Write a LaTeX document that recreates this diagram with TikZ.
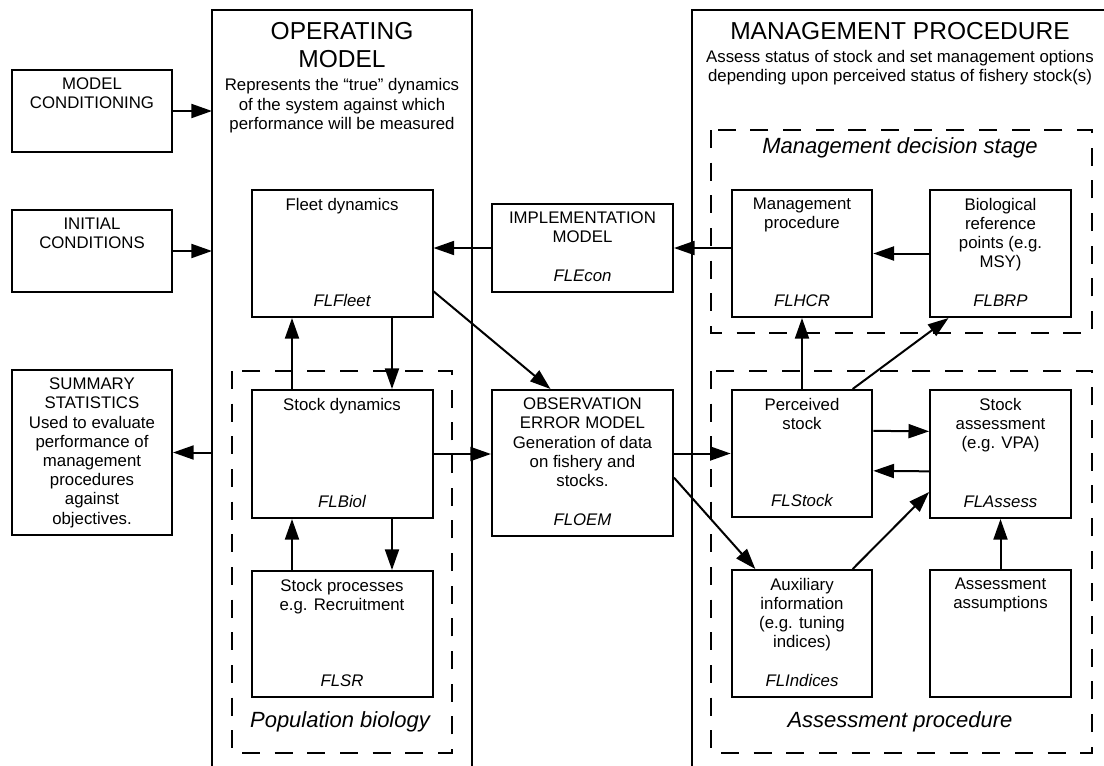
\documentclass[tikz,border=0pt]{standalone}
\usepackage{fontspec}
\setmainfont{Liberation Sans}
\usetikzlibrary{positioning,arrows.meta}

\tikzset{
	box/.style={draw, line width=1.5pt, rectangle, inner sep=0pt},
	side box/.style={box, minimum width=120pt, minimum height=61.5pt},
	mid box/.style={box, minimum width=135.75pt, minimum height=95.25pt},
	right box/.style={box, minimum width=105.5pt, minimum height=95.25pt},
	frame/.style={line width=1.4pt},
	group/.style={line width=1.3pt, dash pattern=on 13.5pt off 11pt},
	txt/.style={align=center, inner sep=0pt, font=\fontsize{12.6}{14.4}\selectfont},
	tag/.style={inner sep=0pt, font=\fontsize{12.6}{14.4}\selectfont\itshape},
	title/.style={align=center, inner sep=0pt, font=\fontsize{18.4}{21}\selectfont},
	stage/.style={inner sep=0pt, font=\fontsize{16.5}{19}\selectfont\itshape}
}

\begin{document}
\begin{tikzpicture}[x=0.75pt, y=-0.75pt, line width=1.5pt, >={Triangle[length=15.5pt, width=10.5pt]}]

	\useasboundingbox (0,0) rectangle (1104,765);

	% outer models
	\draw[frame] (212,775) |- (472,10) -- (472,775);
	\draw[frame] (692,775) |- (1110,10);
	\coordinate (om-west) at (212,0);

	\node[title, anchor=north] (om-title) at (342,21) {OPERATING\\MODEL};
	\node[txt, below=7pt of om-title] (om-sub) {Represents the ``true'' dynamics\\of the system against which\\performance will be measured};
	\node[title, anchor=north] (mp-title) at (900,21) {MANAGEMENT PROCEDURE};
	\node[txt, below=6.4pt of mp-title] (mp-sub) {Assess status of stock and set management options\\depending upon perceived status of fishery stock(s)};

	% dashed groups
	\draw[group] (232,371) rectangle (452,753);
	\draw[group] (711,130) rectangle (1092,333);
	\draw[group] (711,371) rectangle (1092,753);
	\node[stage] (pop-label) at (340,722) {Population biology};
	\node[stage] (dec-label) at (900,148) {Management decision stage};
	\node[stage] (ass-label) at (900,722) {Assessment procedure};

	% left boxes
	\node[side box] (mc) at (92,111) {};
	\node[side box] (ic) at (92,251) {};
	\node[side box, minimum height=123.75pt] (ss) at (92,452.5) {};

	% operating model boxes
	\node[mid box] (fleet) at (342,253.5) {};
	\node[mid box, minimum height=96pt] (biol) at (342,454) {};
	\node[mid box, minimum height=94.5pt] (sr) at (342,634) {};

	% middle boxes
	\node[mid box, minimum height=66pt] (econ) at (582.5,248) {};
	\node[mid box, minimum height=109.5pt] (oem) at (582.5,463) {};

	% management procedure boxes
	\node[right box] (hcr) at (802,253.5) {};
	\node[right box] (brp) at (1000.5,253.5) {};
	\node[right box] (stock) at (802,453.5) {};
	\node[right box, minimum height=96pt] (assess) at (1000.5,454) {};
	\node[right box] (idx) at (802,633.5) {};
	\node[right box] (assump) at (1000.5,633.5) {};

	% box texts
	\foreach \n/\t in {mc/{MODEL\\CONDITIONING}, ic/{INITIAL\\CONDITIONS},
		ss/{SUMMARY\\STATISTICS\\Used to evaluate\\performance of\\management\\procedures\\against\\objectives.},
		fleet/{Fleet dynamics}, biol/{Stock dynamics}, sr/{Stock processes\\e.g. Recruitment},
		econ/{IMPLEMENTATION\\MODEL}, oem/{OBSERVATION\\ERROR MODEL\\Generation of data\\on fishery and\\stocks.},
		hcr/{Management\\procedure}, brp/{Biological\\reference\\points (e.g.\\MSY)},
		stock/{Perceived\\stock}, assess/{Stock\\assessment\\(e.g. VPA)},
		idx/{Auxiliary\\information\\(e.g. tuning\\indices)}, assump/{Assessment\\assumptions}}
		\node[txt, below=6pt of \n.north] (\n-txt) {\t};

	% class names
	\foreach \n/\t in {fleet/FLFleet, biol/FLBiol, sr/FLSR, econ/FLEcon, oem/FLOEM,
		hcr/FLHCR, brp/FLBRP, stock/FLStock, assess/FLAssess, idx/FLIndices}
		\node[tag, above=8pt of \n.south] (\n-tag) {\t};

	% inputs and outputs of the operating model
	\draw[->] (mc) -- (mc -| om-west);
	\draw[->] (ic) -- (ic -| om-west);
	\draw[->] (ss -| om-west) -- (ss);

	% population biology
	\draw[->] ([xshift=-37.5pt]biol.north) -- ([xshift=-37.5pt]fleet.south);
	\draw[->] ([xshift=37.5pt]fleet.south) -- ([xshift=37.5pt]biol.north);
	\draw[->] ([xshift=-37.5pt]sr.north) -- ([xshift=-37.5pt]biol.south);
	\draw[->] ([xshift=37.5pt]biol.south) -- ([xshift=37.5pt]sr.north);

	% implementation
	\draw[->] (econ) -- (econ -| fleet.east);
	\draw[->] (hcr.west |- econ) -- (econ);
	\draw[->] (brp) -- (hcr);

	% observation
	\draw[->] ([yshift=20pt]fleet.south east) -- ([xshift=-24pt]oem.north);
	\draw[->] (biol) -- (biol -| oem.west);
	\draw[->] (oem.east |- stock) -- (stock);
	\draw[->] ([yshift=-11pt]oem.east) -- ([xshift=-35pt]idx.north);

	% assessment
	\draw[->] ([yshift=17pt]stock.east) -- ([yshift=17pt]assess.west);
	\draw[->] ([yshift=-13pt]assess.west) -- ([yshift=-13pt]stock.east);
	\draw[->] ([xshift=38pt]idx.north) -- ([yshift=-28.5pt]assess.west);
	\draw[->] (assump) -- (assess);
	\draw[->] (stock) -- (hcr);
	\draw[->] ([xshift=38pt]stock.north) -- ([xshift=-39pt]brp.south);

\end{tikzpicture}
\end{document}
